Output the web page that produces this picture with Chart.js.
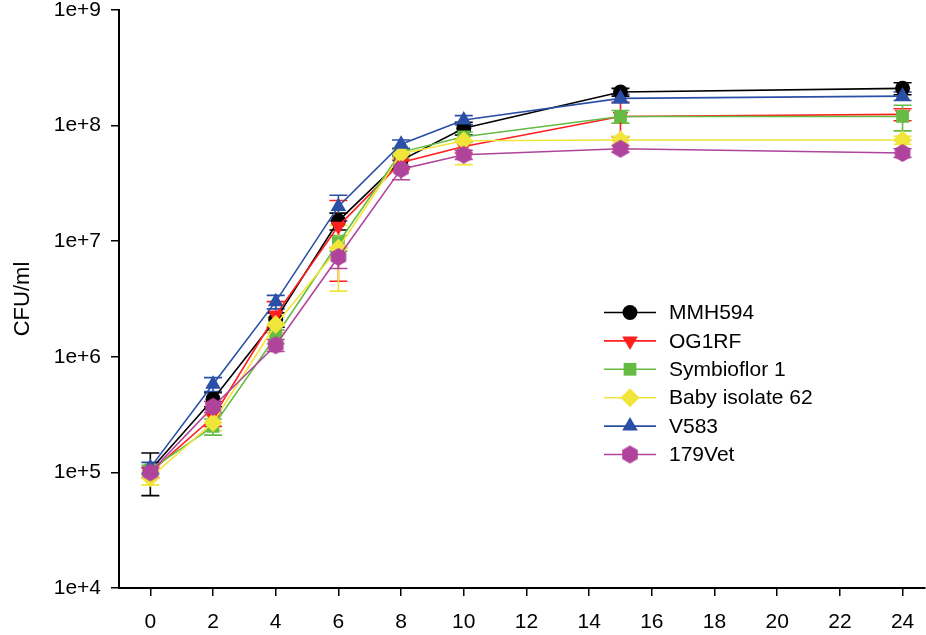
<!DOCTYPE html>
<html>
<head>
<meta charset="utf-8">
<script src="https://cdn.jsdelivr.net/npm/chart.js@4"></script>
<style>
  html, body { margin: 0; padding: 0; background: #fff; overflow: hidden; }
  #wrap { width: 934px; height: 635px; position: relative; }
</style>
</head>
<body>
<div id="wrap"><canvas id="growth"></canvas></div>
<script>
const times = [0, 2, 4, 6, 8, 10, 15, 24];
const xTicks = [0, 2, 4, 6, 8, 10, 12, 14, 16, 18, 20, 22, 24];
const yTicks = [1e4, 1e5, 1e6, 1e7, 1e8, 1e9];

const strains = ["MMH594", "OG1RF", "Symbioflor 1", "Baby isolate 62", "V583", "179Vet"];

const mmh594 = [1.05e5, 4.3e5, 2.1e6, 1.5e7, 5.0e7, 9.5e7, 1.95e8, 2.1e8];
const mmh594Err = [4.2e4, 6e4, 3e5, 2.5e6, 6e6, 1.2e7, 1.5e7, 2.5e7];
const og1rf = [1.0e5, 3.0e5, 2.3e6, 1.35e7, 4.8e7, 6.6e7, 1.2e8, 1.25e8];
const og1rfErr = [1e4, 5e4, 7e5, 9e6, 6e6, 8e6, 4e7, 1.5e7];
const symbioflor = [1.05e5, 2.5e5, 1.5e6, 9.7e6, 5.9e7, 8.0e7, 1.2e8, 1.2e8];
const symbioflorErr = [1e4, 4e4, 2e5, 1.5e6, 5e6, 8e6, 1.5e7, 3e7];
const baby62 = [0.9e5, 2.7e5, 1.9e6, 8.7e6, 5.7e7, 7.4e7, 7.5e7, 7.5e7];
const baby62Err = [1.2e4, 4e4, 3e5, 5e6, 5e6, 2.8e7, 6e6, 6e6];
const v583 = [1.1e5, 5.8e5, 3.0e6, 2.0e7, 6.9e7, 1.12e8, 1.72e8, 1.8e8];
const v583Err = [1.2e4, 8e4, 4e5, 5e6, 6e6, 1e7, 1.5e7, 1.5e7];
const vet179 = [1.0e5, 3.7e5, 1.26e6, 7.3e6, 4.2e7, 5.6e7, 6.3e7, 5.8e7];
const vet179Err = [1e4, 4e4, 1.5e5, 1.5e6, 8e6, 5e6, 4e6, 5e6];

const colors = ["#000000", "#ff1f1f", "#66bb44", "#f2e53a", "#2a4fa6", "#b0449c"];

// hexagon marker for 179Vet (no built-in style)
function hexagon(r, color) {
  const c = document.createElement("canvas");
  c.width = c.height = r * 2 + 2;
  const g = c.getContext("2d");
  g.beginPath();
  for (let k = 0; k < 6; k++) {
    const a = Math.PI / 2 + k * Math.PI / 3;
    const px = r + 1 + r * Math.cos(a), py = r + 1 + r * Math.sin(a);
    k ? g.lineTo(px, py) : g.moveTo(px, py);
  }
  g.closePath();
  g.fillStyle = color;
  g.fill();
  return c;
}
const hexMarker = hexagon(9, colors[5]);

const series = [
  { values: mmh594, err: mmh594Err, style: "circle", radius: 7.5, rot: 0 },
  { values: og1rf, err: og1rfErr, style: "triangle", radius: 9, rot: 180 },
  { values: symbioflor, err: symbioflorErr, style: "rect", radius: 9, rot: 0 },
  { values: baby62, err: baby62Err, style: "rectRot", radius: 9.5, rot: 0 },
  { values: v583, err: v583Err, style: "triangle", radius: 9, rot: 0 },
  { values: vet179, err: vet179Err, style: hexMarker, radius: 9, rot: 0 },
];

const datasets = series.map((s, i) => ({
  label: strains[i],
  data: times.map((t, j) => ({ x: t, y: s.values[j] })),
  errors: s.err,
  borderColor: colors[i],
  backgroundColor: colors[i],
  borderWidth: 1.6,
  pointStyle: s.style,
  pointRadius: s.radius,
  pointRotation: s.rot,
  pointBorderWidth: 0,
  tension: 0,
  order: series.length - i,
}));

const errorBars = {
  id: "errorBars",
  beforeDatasetsDraw(chart) {
    const ctx = chart.ctx;
    const xs = chart.scales.x, ys = chart.scales.y;
    ctx.save();
    ctx.lineWidth = 1.6;
    chart.data.datasets.forEach(ds => {
      ctx.strokeStyle = ds.borderColor;
      ds.data.forEach((p, j) => {
        const e = ds.errors[j];
        const px = xs.getPixelForValue(p.x);
        const top = ys.getPixelForValue(p.y + e);
        const bot = ys.getPixelForValue(Math.max(p.y - e, 1e4));
        ctx.beginPath();
        ctx.moveTo(px, top); ctx.lineTo(px, bot);
        ctx.moveTo(px - 9, top); ctx.lineTo(px + 9, top);
        ctx.moveTo(px - 9, bot); ctx.lineTo(px + 9, bot);
        ctx.stroke();
      });
    });
    ctx.restore();
  },
};

const boxLegend = {
  id: "boxLegend",
  afterDraw(chart) {
    const ctx = chart.ctx;
    const x0 = 604, x1 = 656, yStart = 312.5, step = 28.4;
    ctx.save();
    ctx.font = "21px 'Liberation Sans', Arial, sans-serif";
    ctx.textBaseline = "middle";
    chart.data.datasets.forEach((ds, i) => {
      const y = yStart + i * step;
      ctx.strokeStyle = ds.borderColor;
      ctx.lineWidth = 1.6;
      ctx.beginPath();
      ctx.moveTo(x0, y); ctx.lineTo(x1, y);
      ctx.stroke();
      ctx.fillStyle = ds.backgroundColor;
      Chart.helpers.drawPoint(ctx, {
        pointStyle: ds.pointStyle, radius: ds.pointRadius, rotation: ds.pointRotation,
        borderWidth: 0,
      }, (x0 + x1) / 2, y);
      ctx.fillStyle = "#000";
      ctx.fillText(ds.label, 669, y + 1);
    });
    ctx.restore();
  },
};

const tickFont = { family: "'Liberation Sans', Arial, sans-serif", size: 21 };

new Chart(document.getElementById("growth"), {
  type: "line",
  data: { datasets },
  plugins: [errorBars, boxLegend],
  options: {
    responsive: true,
    maintainAspectRatio: false,
    animation: false,
    layout: { padding: { top: 10, right: 0, left: 0, bottom: 0 } },
    plugins: { legend: { display: false }, tooltip: { enabled: false } },
    scales: {
      x: {
        type: "linear",
        min: -1,
        max: 24.7,
        afterBuildTicks: s => { s.ticks = xTicks.map(v => ({ value: v })); },
        afterFit: s => { s.height = 47; s.paddingLeft = 0; s.paddingRight = 0; },
        grid: { drawOnChartArea: false, drawTicks: true, tickLength: 8, color: "#000", lineWidth: 1.5 },
        border: { display: true, color: "#000", width: 2 },
        ticks: { color: "#000", font: tickFont, padding: 14, maxRotation: 0, autoSkip: false },
      },
      y: {
        type: "logarithmic",
        min: 1e4,
        max: 1e9,
        afterBuildTicks: s => { s.ticks = yTicks.map(v => ({ value: v })); },
        afterFit: s => { s.width = 119; s.paddingTop = 0; s.paddingBottom = 0; },
        grid: { drawOnChartArea: false, drawTicks: true, tickLength: 8, color: "#000", lineWidth: 1.5 },
        border: { display: true, color: "#000", width: 2 },
        ticks: {
          color: "#000", font: tickFont, padding: 10, autoSkip: false,
          callback: v => "1e+" + Math.round(Math.log10(v)),
        },
        title: {
          display: true, text: "CFU/ml", color: "#000",
          font: { family: "'Liberation Sans', Arial, sans-serif", size: 22 },
          padding: { top: 10, bottom: 0 },
        },
      },
    },
  },
});
</script>
</body>
</html>
